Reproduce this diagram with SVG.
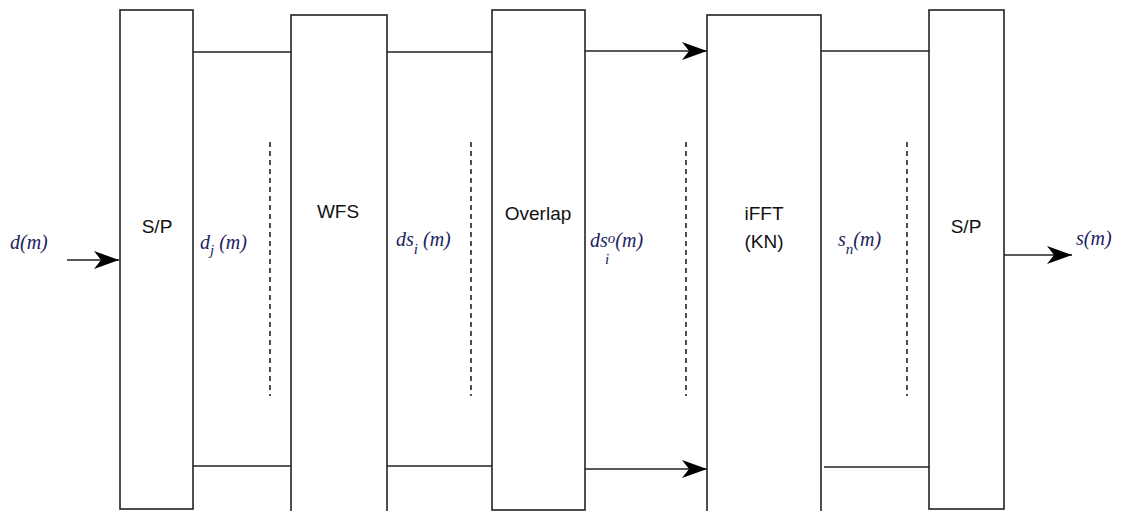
<svg xmlns="http://www.w3.org/2000/svg" width="1121" height="511" viewBox="0 0 1121 511">
<style>
.box{fill:#fff;stroke:#222;stroke-width:1.6}
.ln{fill:none;stroke:#222;stroke-width:1.6}
.dash{fill:none;stroke:#222;stroke-width:1.6;stroke-dasharray:5,4}
.t{font-family:"Liberation Sans",Arial,sans-serif;font-size:19px;fill:#111;text-anchor:middle}
.m{font-family:"Liberation Serif","Times New Roman",serif;font-style:italic;font-size:20px;fill:#1c2260}
.sub{font-size:15px}
</style>
<defs>
<marker id="ah" markerUnits="userSpaceOnUse" markerWidth="28" markerHeight="22" refX="25" refY="11" orient="auto">
<path d="M0,2 L25,11 L0,20 L7,11 Z" fill="#000"/>
</marker>
</defs>
<g id="connectors">
<line class="ln" x1="193" y1="52" x2="291" y2="52"/>
<line class="ln" x1="387" y1="52" x2="492" y2="52"/>
<line class="ln" x1="585" y1="51" x2="707" y2="51" marker-end="url(#ah)"/>
<line class="ln" x1="821" y1="51" x2="929" y2="51"/>
<line class="ln" x1="193" y1="466" x2="291" y2="466"/>
<line class="ln" x1="387" y1="466" x2="492" y2="466"/>
<line class="ln" x1="585" y1="469" x2="707" y2="469" marker-end="url(#ah)"/>
<line class="ln" x1="824" y1="467" x2="929" y2="467"/>
<line class="ln" x1="67" y1="260" x2="119" y2="260" marker-end="url(#ah)"/>
<line class="ln" x1="1004" y1="255" x2="1072" y2="255" marker-end="url(#ah)"/>
<line class="dash" x1="270" y1="142" x2="270" y2="396"/>
<line class="dash" x1="471" y1="142" x2="471" y2="396"/>
<line class="dash" x1="686" y1="142" x2="686" y2="396"/>
<line class="dash" x1="907" y1="142" x2="907" y2="396"/>
</g>
<g id="sp1"><rect class="box" x="120" y="10" width="73" height="499"/><text class="t" x="157" y="233">S/P</text></g>
<g id="wfs"><rect class="box" x="291" y="15" width="96" height="510"/><text class="t" x="338" y="218">WFS</text></g>
<g id="overlap"><rect class="box" x="492" y="10" width="93" height="500"/><text class="t" x="538" y="220">Overlap</text></g>
<g id="ifft"><rect class="box" x="707" y="15" width="114" height="510"/><text class="t" x="764" y="220">iFFT</text><text class="t" x="764" y="248">(KN)</text></g>
<g id="sp2"><rect class="box" x="929" y="10" width="75" height="499"/><text class="t" x="966" y="233">S/P</text></g>
<g id="labels">
<text class="m" x="10" y="249">d(m)</text>
<text class="m" x="200" y="249">d<tspan class="sub" dy="6">j</tspan><tspan dy="-6"> (m)</tspan></text>
<text class="m" x="396" y="246">ds<tspan class="sub" dy="8">i</tspan><tspan dy="-8"> (m)</tspan></text>
<text class="m" x="590" y="247">ds<tspan class="sub" dy="-4">o</tspan><tspan dy="4">(m)</tspan></text>
<text class="m sub" x="605" y="264">i</text>
<text class="m" x="838" y="246">s<tspan class="sub" dy="8">n</tspan><tspan dy="-8">(m)</tspan></text>
<text class="m" x="1076" y="245">s(m)</text>
</g>
</svg>
